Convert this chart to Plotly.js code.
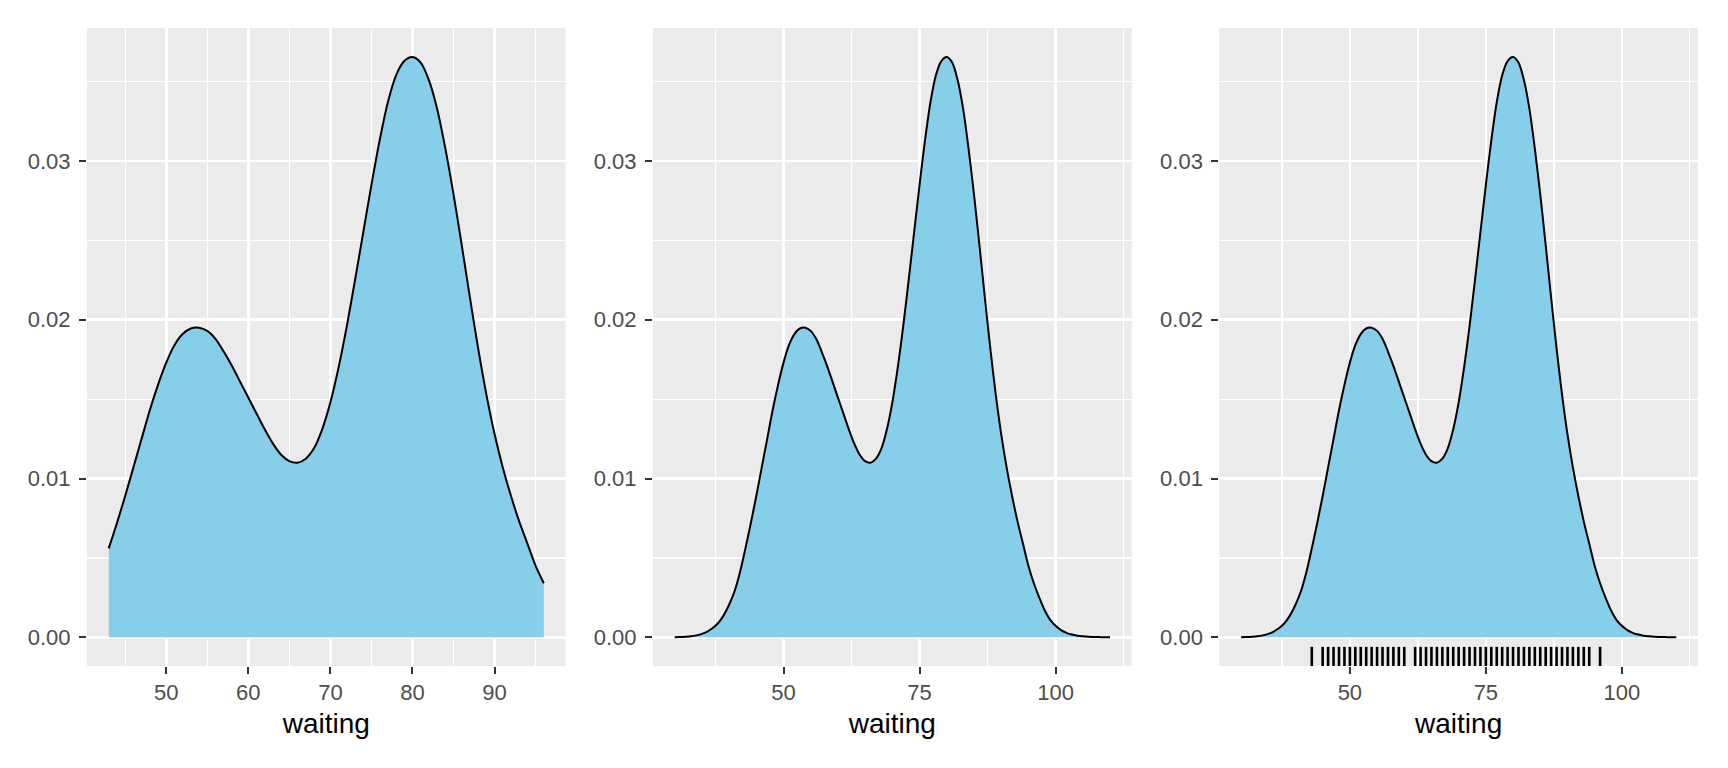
<!DOCTYPE html>
<html>
<head>
<meta charset="utf-8">
<script src="https://cdn.plot.ly/plotly-3.0.1.min.js"></script>
<style>html,body{margin:0;padding:0;background:#fff;}#chart{width:1728px;height:768px;}</style>
</head>
<body>
<div id="chart"></div>
<script>
// Density of Old Faithful waiting times
const waiting = [30,31,32,33,34,35,36,37,38,39,40,41,42,43,44,45,46,47,48,49,50,
  51,52,53,54,55,56,57,58,59,60,61,62,63,64,65,66,67,68,69,70,
  71,72,73,74,75,76,77,78,79,80,81,82,83,84,85,86,87,88,89,90,
  91,92,93,94,95,96,97,98,99,100,101,102,103,104,105,106,107,108,109,110];
const density = [0.00000,0.00001,0.00003,0.00006,0.00012,0.00021,0.00036,0.00058,0.00090,0.00138,0.00205,
  0.00290,0.00410,0.00560,0.00720,0.00890,0.01070,0.01250,0.01430,0.01590,0.01730,
  0.01840,0.01910,0.01945,0.01950,0.01930,0.01880,0.01800,0.01710,0.01610,0.01510,
  0.01410,0.01310,0.01220,0.01150,0.01110,0.01100,0.01125,0.01190,0.01310,0.01480,
  0.01700,0.01960,0.02250,0.02550,0.02850,0.03130,0.03370,0.03540,0.03630,0.03655,
  0.03620,0.03510,0.03330,0.03080,0.02790,0.02470,0.02140,0.01820,0.01530,0.01280,
  0.01070,0.00890,0.00730,0.00590,0.00450,0.00340,0.00250,0.00170,0.00110,0.00072,
  0.00045,0.00028,0.00017,0.00010,0.00006,0.00003,0.00002,0.00001,0.00000,0.00000];
// Observed waiting values shown in the rug
const rugWaiting = [43,45,46,47,48,49,50,51,52,53,54,55,56,57,58,59,60,
  62,63,64,65,66,67,68,69,70,71,72,73,74,75,76,77,78,79,80,81,82,83,84,85,86,87,88,89,90,91,92,93,94,96];
const xTicks1 = [50,60,70,80,90];
const xTicks23 = [50,75,100];
const yTicks = [0,0.01,0.02,0.03];
const yTickLabels = ["0.00","0.01","0.02","0.03"];
const xTitle = "waiting";

const dataMin = Math.min(...rugWaiting), dataMax = Math.max(...rugWaiting);
const p1x = [], p1y = [];
waiting.forEach((w,i)=>{ if (w>=dataMin && w<=dataMax){ p1x.push(w); p1y.push(density[i]); } });

const fillCol = '#87CEEB';
function pair(x, y, xa, ya){
  return [
    {x:x, y:y, xaxis:xa, yaxis:ya, type:'scatter', mode:'lines', fill:'tozeroy',
     fillcolor:fillCol, line:{width:0, shape:'spline', smoothing:0.8, color:fillCol}, hoverinfo:'skip', showlegend:false},
    {x:x, y:y, xaxis:xa, yaxis:ya, type:'scatter', mode:'lines',
     line:{width:2, shape:'spline', smoothing:0.8, color:'#000'}, hoverinfo:'skip', showlegend:false}
  ];
}
const traces = [].concat(
  pair(p1x, p1y, 'x', 'y'),
  pair(waiting, density, 'x2', 'y2'),
  pair(waiting, density, 'x3', 'y3')
);

const W = 1728, H = 768;
const mL = 87.2, mR = 30.4, mT = 28.4, mB = 102;
const pw = W - mL - mR;
function dom(a, b){ return [(a - mL)/pw, (b - mL)/pw]; }

const font = 'Liberation Sans, Arial, sans-serif';
function xAxis(domain, range, ticks, minorStart, minorStep){
  return {
    domain: domain, range: range, tickvals: ticks, ticktext: ticks.map(String),
    ticks:'outside', ticklen:7, tickwidth:2, tickcolor:'#333333',
    tickfont:{family:font, size:22, color:'#4D4D4D'},
    showgrid:true, gridcolor:'#FFFFFF', gridwidth:2.6, zeroline:false, showline:false,
    minor:{tick0:minorStart, dtick:minorStep, showgrid:true, gridcolor:'#FFFFFF', gridwidth:1.3},
    title:{text:xTitle, font:{family:font, size:28, color:'#000'}, standoff:8},
    automargin:false, fixedrange:true
  };
}
function yAxis(anchor){
  return {
    anchor: anchor, domain:[0,1], range:[-0.00181, 0.03838],
    tickvals: yTicks, ticktext: yTickLabels,
    ticks:'outside', ticklen:7, tickwidth:2, tickcolor:'#333333',
    tickfont:{family:font, size:22, color:'#4D4D4D'}, ticklabelstandoff:4,
    showgrid:true, gridcolor:'#FFFFFF', gridwidth:2.6, zeroline:false, showline:false,
    minor:{tick0:0.005, dtick:0.01, showgrid:true, gridcolor:'#FFFFFF', gridwidth:1.3},
    automargin:false, fixedrange:true
  };
}

const shapes = rugWaiting.map(v => ({
  type:'line', xref:'x3', yref:'y3 domain', x0:v, x1:v, y0:0, y1:0.03,
  line:{color:'#000', width:2.6}, layer:'above'
}));

const layout = {
  width:W, height:H, paper_bgcolor:'#FFFFFF', plot_bgcolor:'#EBEBEB',
  margin:{l:mL, r:mR, t:mT, b:mB, pad:0},
  showlegend:false, hovermode:false,
  xaxis: Object.assign(xAxis(dom(87.2,565.6), [40.35,98.65], xTicks1, 45, 10), {anchor:'y'}),
  xaxis2: Object.assign(xAxis(dom(652.9,1131.6), [26,114], xTicks23, 37.5, 25), {anchor:'y2'}),
  xaxis3: Object.assign(xAxis(dom(1219.1,1697.6), [26,114], xTicks23, 37.5, 25), {anchor:'y3'}),
  yaxis: yAxis('x'), yaxis2: yAxis('x2'), yaxis3: yAxis('x3'),
  shapes: shapes
};

Plotly.newPlot('chart', traces, layout, {staticPlot:true, displayModeBar:false});
</script>
</body>
</html>
